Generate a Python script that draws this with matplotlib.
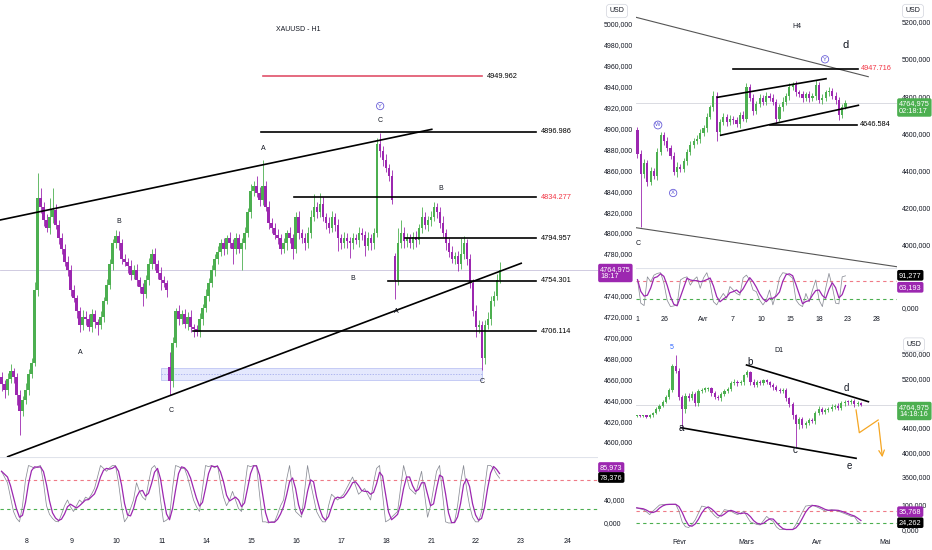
import numpy as np
import pandas as pd
import matplotlib.pyplot as plt
from matplotlib.patches import Rectangle

plt.rcParams['font.family'] = ['Liberation Sans', 'DejaVu Sans']

W, H = 932, 550
GREEN = '#4caf50'
PURPLE = '#9c27b0'
INK = '#131722'
RED = '#f23645'

# ---------------- H1 (left) ----------------
h1_first_open = 4662
h1_close = [4655, 4650, 4660, 4668, 4662, 4645, 4630, 4640, 4650, 4665,
            4676, 4745, 4833, 4825, 4812, 4805, 4815, 4822, 4808, 4795,
            4785, 4772, 4765, 4745, 4738, 4725, 4712, 4720, 4718, 4710,
            4722, 4715, 4712, 4720, 4735, 4750, 4770, 4790, 4797, 4790,
            4775, 4772, 4768, 4760, 4765, 4755, 4748, 4742, 4755, 4770,
            4780, 4770, 4762, 4755, 4752, 4745, 4658, 4695, 4725, 4718,
            4722, 4713, 4720, 4710, 4708, 4705, 4718, 4728, 4740, 4752,
            4765, 4775, 4782, 4790, 4785, 4795, 4790, 4785, 4795, 4785,
            4790, 4800, 4820, 4840, 4845, 4838, 4832, 4845, 4825, 4810,
            4805, 4798, 4795, 4785, 4790, 4800, 4795, 4785, 4815, 4800,
            4795, 4790, 4800, 4815, 4825, 4820, 4828, 4815, 4810, 4805,
            4815, 4808, 4795, 4790, 4795, 4792, 4790, 4795, 4793, 4800,
            4798, 4788, 4795, 4790, 4800, 4885, 4878, 4870, 4862, 4855,
            4832, 4755, 4790, 4800, 4792, 4795, 4790, 4796, 4793, 4805,
            4815, 4808, 4812, 4815, 4825, 4820, 4810, 4800, 4790, 4782,
            4775, 4778, 4770, 4780, 4790, 4775, 4752, 4725, 4710, 4712,
            4680, 4712, 4718, 4735, 4740, 4755, 4765]
h1_up = [5, 4, 6, 7, 3, 4, 5, 4, 6, 5, 4, 8, 24, 10, 5, 6, 18, 21, 6, 4,
         5, 4, 6, 4, 5, 3, 4, 6, 5, 4, 5, 4, 3, 5, 4, 6, 5, 4, 6, 5,
         4, 5, 4, 6, 4, 5, 3, 4, 5, 6, 5, 6, 4, 5, 4, 3, 14, 5, 3, 6,
         4, 5, 4, 6, 3, 4, 5, 4, 6, 5, 4, 5, 6, 4, 5, 3, 6, 4, 5, 4,
         5, 6, 4, 7, 5, 10, 6, 25, 5, 6, 4, 5, 6, 4, 5, 3, 6, 4, 5, 6,
         4, 5, 6, 7, 12, 5, 10, 6, 4, 5, 6, 4, 5, 4, 6, 5, 4, 5, 4, 6,
         5, 4, 6, 4, 5, 6, 11, 5, 6, 4, 5, 3, 15, 12, 6, 5, 4, 5, 6, 4,
         10, 5, 4, 6, 5, 4, 5, 6, 4, 5, 6, 4, 5, 15, 7, 4, 5, 4, 6, 5,
         4, 5, 6, 5, 4, 6, 7]
h1_dn = [6, 8, 5, 4, 6, 10, 23, 5, 4, 5, 4, 3, 5, 6, 5, 4, 6, 5, 4, 6,
         5, 4, 6, 5, 4, 6, 7, 5, 6, 4, 5, 6, 10, 4, 5, 3, 4, 5, 4, 6,
         5, 4, 6, 5, 4, 6, 5, 12, 4, 5, 4, 5, 6, 10, 4, 6, 13, 5, 4, 6,
         5, 4, 6, 5, 8, 4, 5, 6, 4, 5, 4, 6, 5, 4, 6, 5, 4, 15, 5, 4,
         20, 5, 4, 6, 5, 4, 6, 5, 4, 6, 5, 4, 6, 5, 4, 6, 5, 10, 4, 6,
         5, 6, 4, 5, 4, 6, 5, 4, 6, 5, 4, 6, 12, 5, 4, 6, 14, 5, 4, 6,
         5, 10, 4, 6, 5, 4, 5, 6, 4, 5, 4, 18, 5, 4, 6, 5, 4, 5, 6, 4,
         5, 4, 6, 5, 4, 6, 5, 4, 6, 5, 4, 5, 6, 4, 5, 6, 5, 4, 10, 6,
         11, 5, 4, 6, 5, 4, 3]
h1_gap_open = {56: 4672, 131: 4778}
h1_k = [90, 80, 70, 45, 20, 8, 2, 30, 75, 100, 98, 95, 98, 100, 70, 30, 15, 8, 3, 2,
        15, 30, 40, 28, 20, 30, 40, 35, 45, 42, 50, 60, 80, 100, 95, 90, 96, 100, 100, 70,
        30, 2, 10, 25, 40, 70, 55, 45, 40, 70, 95, 100, 90, 40, 2, 5, 10, 60, 100, 98,
        95, 95, 80, 60, 40, 28, 20, 60, 100, 98, 100, 96, 100, 70, 45, 30, 40, 55, 40, 25,
        20, 60, 100, 98, 100, 100, 50, 2, 2, 0, 2, 2, 15, 30, 40, 75, 100, 60, 20, 15,
        10, 55, 100, 70, 45, 20, 10, 2, 2, 30, 50, 45, 40, 45, 50, 60, 70, 80, 65, 50,
        55, 60, 50, 40, 70, 95, 100, 50, 2, 5, 10, 15, 20, 60, 100, 80, 60, 55, 50, 70,
        90, 50, 10, 30, 60, 90, 100, 50, 2, 0, 0, 2, 30, 70, 100, 60, 30, 10, 2, 2,
        20, 60, 100, 100, 95, 85, 78]
h1_days = ['8', '9', '10', '11', '14', '15', '16', '17', '18', '21', '22', '23', '24']
h1_day_pos = [8.43, 23.5, 38.4, 53.5, 68.4, 83.3, 98.4, 113.3, 128.3, 143.3, 158.1, 173, 188.7]
h1_levels = [4949.962, 4896.986, 4834.277, 4794.957, 4754.301, 4706.114]
h1_level_x0 = [87, 86.5, 97.5, 134.5, 128.7, 63.7]
h1_level_x1 = [160.2, 178.3, 178.3, 178.3, 178.3, 178.3]

# ---------------- H4 (top right) ----------------
h4_first_open = 4620
h4_close = [4490, 4380, 4440, 4340, 4400, 4370, 4500, 4590, 4560, 4520,
            4480, 4390, 4420, 4410, 4450, 4500, 4540, 4560, 4570, 4600,
            4630, 4690, 4740, 4800, 4610, 4660, 4690, 4660, 4680, 4670,
            4650, 4700, 4680, 4850, 4790, 4720, 4760, 4790, 4770, 4800,
            4790, 4770, 4680, 4740, 4770, 4800, 4850, 4860, 4820, 4810,
            4790, 4810, 4790, 4800, 4860, 4780, 4790, 4820, 4830, 4800,
            4780, 4700, 4740, 4765]
h4_up = [15, 20, 25, 15, 20, 15, 20, 20, 15, 20, 15, 20, 25, 15, 20, 15, 20, 15, 20, 25,
         15, 20, 15, 30, 20, 15, 20, 15, 20, 15, 20, 15, 20, 20, 15, 20, 15, 20, 15, 20,
         15, 20, 15, 20, 25, 15, 20, 15, 20, 15, 20, 15, 20, 15, 25, 15, 20, 15, 20, 15,
         20, 15, 20, 15]
h4_dn = [20, 281, 20, 25, 20, 15, 20, 15, 20, 15, 20, 15, 25, 20, 15, 20, 15, 20, 15, 20,
         15, 20, 15, 20, 50, 20, 15, 20, 15, 20, 15, 20, 15, 20, 15, 20, 15, 20, 15, 20,
         15, 20, 25, 15, 20, 15, 20, 15, 20, 15, 20, 15, 20, 15, 20, 15, 20, 15, 20, 15,
         20, 30, 15, 10]
h4_k = [80, 12, 5, 88, 74, 93, 98, 100, 70, 20, 2, 4, 7, 79, 85, 88, 64, 79, 88, 55,
        85, 100, 69, 16, 7, 25, 40, 26, 60, 50, 40, 35, 85, 93, 79, 50, 45, 21, 7, 21,
        50, 7, 40, 85, 100, 98, 92, 84, 21, 8, 2, 40, 16, 50, 79, 21, 2, 55, 98, 60,
        12, 10, 88, 91]
h4_ticks = ['1', '26', 'Avr', '7', '10', '15', '18', '23', '28']
h4_tick_pos = [0.06, 8.3, 19.9, 28.7, 37.4, 46.2, 55, 63.6, 72.5]

# ---------------- D1 (bottom right) ----------------
d1_first_open = 4585
d1_close = [4590, 4585, 4592, 4580, 4600, 4640, 4700, 4760, 4820, 4900,
            5010, 5400, 5330, 4900, 4700, 4920, 4880, 4950, 4800, 4990,
            5020, 5030, 5040, 4960, 4900, 4880, 4950, 5000, 5030, 5130,
            5150, 5120, 5140, 5250, 5300, 5150, 5100, 5140, 5130, 5170,
            5140, 5100, 5060, 5020, 5000, 5010, 4880, 4780, 4600, 4460,
            4540, 4440, 4480, 4520, 4500, 4640, 4700, 4660, 4690, 4700,
            4740, 4760, 4720, 4800, 4820, 4810, 4830, 4780, 4800, 4765]
d1_up = [20, 15, 20, 15, 25, 20, 30, 25, 30, 25, 30, 40, 184, 40, 30, 40, 50, 40, 30, 35,
         30, 40, 30, 25, 30, 35, 30, 30, 35, 30, 40, 30, 35, 30, 40, 30, 40, 30, 35, 30,
         30, 25, 30, 35, 30, 40, 30, 25, 30, 30, 40, 30, 35, 30, 40, 30, 50, 30, 35, 30,
         40, 30, 35, 40, 30, 35, 30, 40, 30, 20]
d1_dn = [15, 20, 15, 20, 20, 25, 20, 25, 30, 25, 30, 25, 40, 50, 285, 60, 40, 30, 50, 40,
         30, 35, 30, 40, 35, 30, 40, 30, 35, 30, 30, 35, 30, 40, 30, 60, 40, 35, 30, 35,
         30, 35, 40, 30, 35, 30, 40, 50, 60, 371, 80, 40, 50, 40, 30, 40, 35, 40, 30, 35,
         30, 40, 35, 30, 40, 35, 30, 40, 30, 20]
d1_k = [86, 82, 79, 70, 59, 73, 85, 97, 99, 100, 100, 100, 100, 73, 30, 11, 8, 20, 38, 65,
        93, 90, 86, 70, 55, 45, 60, 79, 76, 73, 65, 59, 65, 73, 50, 30, 25, 20, 18, 35,
        52, 40, 32, 10, 0, 0, 0, 0, 0, 20, 45, 70, 93, 95, 97, 92, 86, 80, 73, 76,
        79, 76, 73, 68, 63, 58, 52, 51, 32, 24]
d1_ticks = ['Févr', 'Mars', 'Avr', 'Mai']
d1_tick_pos = [13.3, 33.6, 55.6, 76.4]

last_price = 4764.975


def rect(x0, y0, x1, y1):
    return [x0 / W, 1 - y1 / H, (x1 - x0) / W, (y1 - y0) / H]


def ftxt(px, py, s, **kw):
    kw.setdefault('fontsize', 5)
    kw.setdefault('va', 'center')
    return fig.text(px / W, 1 - py / H, s, **kw)


def tag(px, py, s, fc, ha='left', fs=5.3):
    ftxt(px, py, s, color='white', ha=ha, linespacing=1.15, fontsize=fs,
         bbox=dict(boxstyle='round,pad=0.25', fc=fc, ec='none'))


def usd(px, py):
    ftxt(px, py, 'USD', color=INK, ha='center',
         bbox=dict(boxstyle='round,pad=0.45', fc='white', ec='#d9dbe2', lw=0.6))


def candles(ax, close, up, dn, first_open, gaps=None, width=0.6, minh=1.0):
    close = np.array(close, float)
    opens = np.r_[first_open, close[:-1]]
    for i, v in (gaps or {}).items():
        opens[i] = v
    hi = np.maximum(opens, close) + np.array(up)
    lo = np.minimum(opens, close) - np.array(dn)
    x = np.arange(len(close))
    col = np.where(close >= opens, GREEN, PURPLE)
    ax.vlines(x, lo, hi, colors=col, lw=0.6, zorder=2)
    ax.bar(x, np.maximum(np.abs(close - opens), minh), bottom=np.minimum(opens, close),
           width=width, color=col, lw=0, zorder=2)


def stoch(ax, k, y_hi, y_lo):
    k = pd.Series(k, dtype=float)
    d = k.rolling(3, min_periods=1).mean()
    x = np.arange(len(k))
    ax.plot(x, k, color='#8a8d96', lw=0.55, zorder=3)
    ax.plot(x, d, color=PURPLE, lw=0.9, zorder=3)
    ax.axhline(75, color='#ef7a86', lw=0.8, ls=(0, (3, 3)))
    ax.axhline(25, color='#4caf50', lw=0.8, ls=(0, (3, 3)))
    ax.set_ylim(y_lo, y_hi)


def style(ax, pad=3.5):
    for s in ax.spines.values():
        s.set_visible(False)
    ax.yaxis.tick_right()
    ax.tick_params(length=0, labelsize=5, colors=INK, pad=pad)
    ax.set_facecolor('none')


def price_ticks(ax, vals):
    ax.set_yticks(vals)
    ax.set_yticklabels([f'{v:.0f},000' for v in vals])


fig = plt.figure(figsize=(W / 100, H / 100), dpi=100)

# ================= H1 =================
ax1 = fig.add_axes(rect(0, 0, 598, 457))
ax1o = fig.add_axes(rect(0, 457, 598, 530), sharex=ax1)
style(ax1, 4)
style(ax1o, 4)
candles(ax1, h1_close, h1_up, h1_dn, h1_first_open, h1_gap_open, width=0.7, minh=1.2)
ax1.set_ylim(4585.6, 5022.97)
ax1.set_xlim(-0.5, 198.8)
price_ticks(ax1, [v for v in range(4600, 5001, 20) if v != 4760])
ax1.tick_params(labelbottom=False)
ax1.axhline(last_price, color='#c9c3dc', lw=0.6, zorder=1)

ax1.add_patch(Rectangle((53.3, 4659.3), 106.9, 11.5, fc='#e4e8fd', ec='#b4bcf2', lw=0.5, zorder=1))
ax1.plot([53.3, 160.2], [4665, 4665], color='#9aa3ea', lw=0.5, ls=(0, (2, 2)), zorder=1)

for lv, a, b in zip(h1_levels, h1_level_x0, h1_level_x1):
    c = '#e0506a' if lv == 4949.962 else 'black'
    ax1.plot([a, b], [lv, lv], color=c, lw=1.2, zorder=4)
    lc = RED if lv == 4834.277 else 'black'
    ax1.text(b + 1.6, lv, f'{lv:.3f}', fontsize=5.3, color=lc, va='center', ha='left')

ax1.plot([-0.5, 143.4], [4812.4, 4899.2], color='black', lw=1.2, zorder=4)
ax1.plot([2.07, 173.2], [4585.9, 4771.0], color='black', lw=1.2, zorder=4)

for s, x, y in [('A', 87.2, 4880.4), ('B', 39.0, 4810.8), ('A', 26.2, 4685.2),
                ('C', 56.5, 4629.7), ('B', 117.2, 4756.0), ('A', 131.5, 4724.4),
                ('B', 146.5, 4842.1), ('C', 160.2, 4657.4), ('C', 126.2, 4908.1)]:
    ax1.text(x, y, s, fontsize=5, color=INK, ha='center', va='center', zorder=5)
ax1.text(126.2, 4921.5, 'Y', fontsize=4.2, color='#5b55d6', ha='center', va='center',
         bbox=dict(boxstyle='circle,pad=0.2', fc='white', ec='#6a5fd8', lw=0.6))
ax1.text(99, 4994.9, 'XAUUSD - H1', fontsize=5, color=INK, ha='center', va='center')

stoch(ax1o, h1_k, 114.8, -12.2)
ax1o.set_yticks([0, 40])
ax1o.set_yticklabels(['0,000', '40,000'])
ax1o.set_xticks(h1_day_pos)
ax1o.set_xticklabels(h1_days)
ax1o.tick_params(axis='x', pad=6)
ax1o.axhline(114.8, color='#e0e3eb', lw=0.8)

# ================= H4 =================
ax4 = fig.add_axes(rect(636, 0, 897, 268))
ax4o = fig.add_axes(rect(636, 268, 897, 312), sharex=ax4)
style(ax4)
style(ax4o)
candles(ax4, h4_close, h4_up, h4_dn, h4_first_open, width=0.65, minh=6)
ax4.set_xlim(-0.45, 78.6)
ax4.set_ylim(3876.3, 5317.2)
price_ticks(ax4, [4000, 4200, 4400, 4600, 4800, 5000, 5200])
ax4.tick_params(labelbottom=False)
ax4.axhline(last_price, color='#d4d6dd', lw=0.6, zorder=1)

ax4.plot([-0.45, 69.9], [5224.2, 4904.8], color='#555555', lw=0.8)
ax4.plot([-0.45, 78.5], [4093.0, 3883.3], color='#555555', lw=0.8)
ax4.plot([29, 66.9], [4947.716, 4947.716], color='black', lw=1.2, zorder=4)
ax4.plot([40.2, 66.4], [4646.584, 4646.584], color='black', lw=1.2, zorder=4)
ax4.plot([24.2, 57.1], [4794, 4894], color='black', lw=1.2, zorder=4)
ax4.plot([25.2, 66.9], [4590, 4751], color='black', lw=1.2, zorder=4)
ax4.text(67.6, 4947.716, '4947.716', fontsize=5.3, color=RED, va='center')
ax4.text(67.4, 4646.584, '4646.584', fontsize=5.3, color='black', va='center')
ax4.text(48.2, 5177.4, 'H4', fontsize=5, color=INK, ha='center', va='center')
ax4.text(62.9, 5075.3, 'd', fontsize=8, color=INK, ha='center', va='center')
ax4.text(0.06, 4005.4, 'C', fontsize=5, color=INK, ha='center', va='center')
for s, x, y in [('Y', 56.8, 4998.4), ('W', 6.2, 4645.2), ('X', 10.8, 4279.6)]:
    ax4.text(x, y, s, fontsize=4.2, color='#5b55d6', ha='center', va='center', zorder=5,
             bbox=dict(boxstyle='circle,pad=0.2', fc='white', ec='#6a5fd8', lw=0.6))

stoch(ax4o, h4_k, 113.6, -13.6)
ax4o.set_yticks([0])
ax4o.set_yticklabels(['0,000'])
ax4o.set_xticks(h4_tick_pos)
ax4o.set_xticklabels(h4_ticks)
ax4o.tick_params(axis='x', pad=3)
ax4o.axhline(113.6, color='#e0e3eb', lw=0.8)

# ================= D1 =================
axd = fig.add_axes(rect(636, 333, 897, 498))
axdo = fig.add_axes(rect(636, 498, 897, 532), sharex=axd)
style(axd)
style(axdo)
candles(axd, d1_close, d1_up, d1_dn, d1_first_open, width=0.65, minh=18)
axd.set_xlim(-0.22, 80.1)
axd.set_ylim(3252.8, 5942.3)
price_ticks(axd, [3600, 4000, 4400, 5200, 5600])
axd.tick_params(labelbottom=False)
axd.axhline(last_price, color='#d4d6dd', lw=0.6, zorder=1)

axd.plot([33.8, 71.3], [5420.7, 4822.5], color='black', lw=1.2, zorder=4)
axd.plot([13.6, 67.5], [4398.7, 3900.0], color='black', lw=1.2, zorder=4)
axd.plot([67.5, 68.5, 74.3], [4687.2, 4317.2, 4524.2], color='#f5a623', lw=0.9, zorder=4)
axd.annotate('', xy=(75.7, 3872.2), xytext=(74.3, 4524.2),
             arrowprops=dict(arrowstyle='->', color='#f5a623', lw=0.9))
axd.text(10.8, 5709.2, '5', fontsize=5, color='#2962ff', ha='center', va='center')
for s, x, y in [('a', 13.6, 4398.7), ('b', 34.9, 5464.7), ('c', 48.7, 4035.2),
                ('d', 64.4, 5040.9), ('e', 65.4, 3774.4)]:
    axd.text(x, y, s, fontsize=7, color=INK, ha='center', va='center', zorder=5)
axd.text(43.9, 5653.8, 'D1', fontsize=5, color=INK, ha='center', va='center')

stoch(axdo, d1_k, 125, -9.9)
axdo.set_yticks([0, 100])
axdo.set_yticklabels(['0,000', '100,000'])
axdo.set_xticks(d1_tick_pos)
axdo.set_xticklabels(d1_ticks)
axdo.tick_params(axis='x', pad=5)

# ---------------- price scale tags ----------------
usd(617, 11)
usd(913, 11)
usd(914, 344.5)
tag(600, 273, '4764,975\n18:17', PURPLE)
tag(600, 467.5, '85,973', PURPLE)
tag(600, 477.5, '78,376', 'black')
tag(899, 107.5, '4764,975\n02:18:17', GREEN)
tag(899, 275.3, '91,277', 'black')
tag(899, 287.3, '63,193', PURPLE)
tag(899, 411, '4764,975\n14:18:16', GREEN)
tag(899, 511.7, '35,768', PURPLE)
tag(899, 522.7, '24,262', 'black')

fig.savefig('out.png', dpi=100, facecolor='white')
